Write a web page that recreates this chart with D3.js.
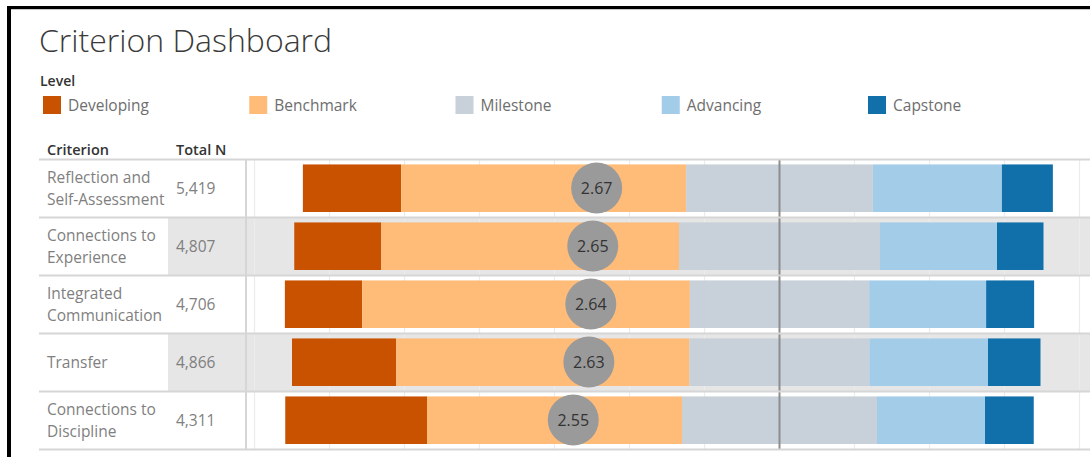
<!DOCTYPE html>
<html>
<head>
<meta charset="utf-8">
<script src="https://cdn.jsdelivr.net/npm/d3@7"></script>
<style>
  html, body { margin: 0; padding: 0; background: #fff; }
  svg { display: block; }
  text { font-family: "Open Sans", "Noto Sans", sans-serif; }
</style>
</head>
<body>
<svg id="chart" width="1090" height="457"></svg>
<script>
// ---------- data ----------
const criteria = ["Reflection and Self-Assessment", "Connections to Experience", "Integrated Communication", "Transfer", "Connections to Discipline"];
const criterionLines = [["Reflection and", "Self-Assessment"], ["Connections to", "Experience"], ["Integrated", "Communication"], ["Transfer"], ["Connections to", "Discipline"]];
const totalN = [5419, 4807, 4706, 4866, 4311];
const levels = ["Developing", "Benchmark", "Milestone", "Advancing", "Capstone"];
const developing = [13.1, 11.6, 10.3, 13.9, 18.9];
const benchmark  = [38.0, 39.7, 43.7, 39.1, 34.0];
const milestone  = [24.9, 26.8, 23.9, 24.0, 26.0];
const advancing  = [17.2, 15.6, 15.6, 15.8, 14.4];
const capstone   = [6.8, 6.2, 6.4, 7.0, 6.5];
const means = [2.67, 2.65, 2.64, 2.63, 2.55];
const gridTicks = [-70, -60, -50, -40, -30, -20, -10, 10, 20, 30, 40];
const levelColors = ["#c85200", "#ffbc79", "#c8d0d9", "#a3cce9", "#1170aa"];

// ---------- layout ----------
const W = 1090, H = 457;
const svg = d3.select("#chart");

const series = [developing, benchmark, milestone, advancing, capstone];
const rows = criteria.map((c, i) => {
  const vals = series.map(s => s[i]);
  let start = -(vals[0] + vals[1] + vals[2] / 2);
  const segs = vals.map((v, k) => {
    const s = { level: levels[k], x0: start, x1: start + v, color: levelColors[k] };
    start += v;
    return s;
  });
  return { criterion: c, lines: criterionLines[i], n: totalN[i], mean: means[i], segs, i };
});

const x = d3.scaleLinear().domain([-70, 40]).range([254.5, 1079.5]);
const meanX = d3.scaleLinear().domain([1, 4]).range([x(-67.8), x(10.2)]);
const y = d3.scaleBand().domain(criteria).range([159.5, 449.5]);
const bw = y.bandwidth();

// ---------- frame ----------
svg.append("rect").attr("x", 7).attr("y", 6).attr("width", W - 7).attr("height", 3).attr("fill", "#000");
svg.append("rect").attr("x", 7).attr("y", 6).attr("width", 4).attr("height", H - 6).attr("fill", "#000");
svg.append("rect").attr("x", 11).attr("y", 9).attr("width", W - 11).attr("height", 1).attr("fill", "#c8c8c8");

// ---------- title & legend ----------
svg.append("text").attr("x", 39).attr("y", 52)
  .attr("font-size", 32).attr("font-weight", 300).attr("fill", "#3a3a3a").text("Criterion Dashboard");

svg.append("text").attr("x", 40).attr("y", 86)
  .attr("font-size", 14).attr("font-weight", 600).attr("fill", "#333").text("Level");

const legendX = d3.scalePoint().domain(levels).range([43, 868]);
const lg = svg.append("g").selectAll("g").data(levels).join("g")
  .attr("transform", d => `translate(${legendX(d)},96)`);
lg.append("rect").attr("width", 18).attr("height", 18).attr("fill", (d, i) => levelColors[i]);
lg.append("text").attr("x", 25).attr("y", 15).attr("font-size", 15.5).attr("fill", "#6e6e6e").text(d => d);

// ---------- table headers ----------
svg.append("text").attr("x", 47).attr("y", 155).attr("font-size", 14.5).attr("font-weight", 600).attr("fill", "#333").text("Criterion");
svg.append("text").attr("x", 176).attr("y", 155).attr("font-size", 14.5).attr("font-weight", 600).attr("fill", "#333").text("Total N");

// ---------- row shading ----------
svg.append("g").selectAll("rect").data(rows.filter(r => r.i % 2 === 1)).join("rect")
  .attr("x", 168).attr("width", W - 168)
  .attr("y", d => y(d.criterion)).attr("height", bw)
  .attr("fill", "#e6e6e6");

// ---------- grid lines ----------
svg.append("g").selectAll("line").data(gridTicks).join("line")
  .attr("x1", d => x(d)).attr("x2", d => x(d))
  .attr("y1", y.range()[0]).attr("y2", y.range()[1])
  .attr("stroke", "#ececec").attr("stroke-width", 1.2);

// ---------- bars ----------
const rowG = svg.append("g").selectAll("g").data(rows).join("g");
rowG.selectAll("rect").data(d => d.segs.map(s => ({ ...s, criterion: d.criterion }))).join("rect")
  .attr("x", d => x(d.x0)).attr("width", d => x(d.x1) - x(d.x0))
  .attr("y", d => y(d.criterion) + bw * 0.085).attr("height", bw * 0.82)
  .attr("fill", d => d.color);

// zero line
svg.append("line").attr("x1", x(0)).attr("x2", x(0))
  .attr("y1", y.range()[0]).attr("y2", y.range()[1])
  .attr("stroke", "#8e8e8e").attr("stroke-width", 2);

// ---------- row separators ----------
const seps = [y.range()[0]].concat(criteria.map(c => y(c) + bw));
svg.append("g").selectAll("line").data(seps).join("line")
  .attr("x1", 39).attr("x2", W).attr("y1", d => d).attr("y2", d => d)
  .attr("stroke", "#d6d6d6").attr("stroke-width", 2);
svg.append("line").attr("x1", 246).attr("x2", 246)
  .attr("y1", y.range()[0]).attr("y2", y.range()[1])
  .attr("stroke", "#d6d6d6").attr("stroke-width", 2);

// ---------- mean circles ----------
const mg = svg.append("g").selectAll("g").data(rows).join("g")
  .attr("transform", d => `translate(${meanX(d.mean)},${y(d.criterion) + bw / 2 - 0.5})`);
mg.append("circle").attr("r", 25.5).attr("fill", "#9a9a9a");
mg.append("text").attr("text-anchor", "middle").attr("dy", "0.36em")
  .attr("font-size", 16).attr("fill", "#333").text(d => d3.format(".2f")(d.mean));

// ---------- table text ----------
const tg = svg.append("g").selectAll("g").data(rows).join("g");
tg.append("text").attr("x", 47)
  .attr("y", d => y(d.criterion) + bw / 2 - (d.lines.length - 1) * 11)
  .attr("font-size", 15.5).attr("fill", "#7f7f7f")
  .selectAll("tspan").data(d => d.lines).join("tspan")
  .attr("x", 47).attr("dy", (d, i) => i === 0 ? "0.36em" : 22).text(d => d);
tg.append("text").attr("x", 176).attr("y", d => y(d.criterion) + bw / 2)
  .attr("dy", "0.36em").attr("font-size", 15.5).attr("fill", "#7f7f7f")
  .text(d => d3.format(",")(d.n));
</script>
</body>
</html>
